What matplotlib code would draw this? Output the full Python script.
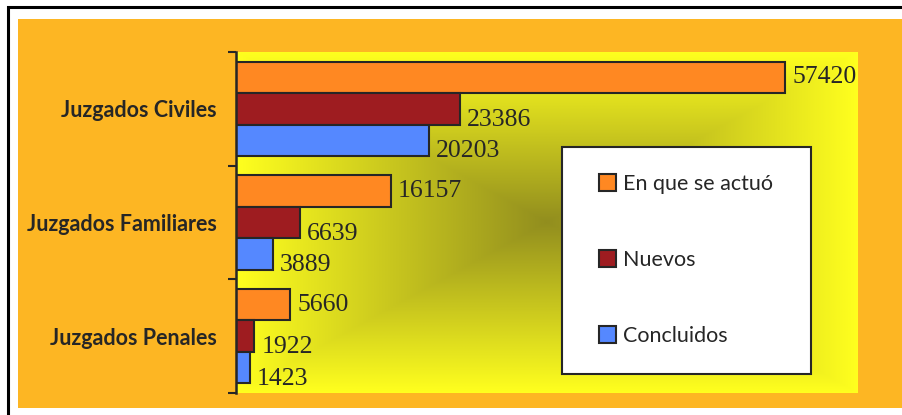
import numpy as np
import matplotlib.pyplot as plt
from matplotlib.patches import Rectangle, Patch
from matplotlib.lines import Line2D
from matplotlib.colors import LinearSegmentedColormap

# Datos
categorias = ['Juzgados Civiles', 'Juzgados Familiares', 'Juzgados Penales']
series = ['En que se actuó', 'Nuevos', 'Concluidos']
en_que_se_actuo = [57420, 16157, 5660]
nuevos = [23386, 6639, 1922]
concluidos = [20203, 3889, 1423]

colores = ['#FF8822', '#9E1C20', '#5588FF']
W, H = 902, 415

fig = plt.figure(figsize=(W / 100, H / 100), dpi=100)
fig.patch.set_facecolor('white')

# marco negro (arriba e izquierda) y fondo naranja
fig.add_artist(Line2D([8 / W, 8 / W, 1.0], [0.0, 1 - 7.5 / H, 1 - 7.5 / H],
                      transform=fig.transFigure, color='black', linewidth=2.2,
                      solid_joinstyle='miter', zorder=0))
fig.add_artist(Rectangle((18 / W, 7 / H), 1, (408 - 19) / H, transform=fig.transFigure,
                         facecolor='#FDB623', edgecolor='none', zorder=0.5))

ax = fig.add_axes([236 / W, (H - 393) / H, (858 - 236) / W, (393 - 52) / H])
ax.set_zorder(2)
ax.set_facecolor('#FFFF1E')

# degradado rectangular desde el centro
xx, yy = np.meshgrid(np.linspace(-1, 1, 400), np.linspace(-1, 1, 300))
t = np.maximum(np.abs(xx), np.abs(yy))
cmap = LinearSegmentedColormap.from_list('grad', ['#928E1E', '#FFFF1E'])
xmax = 65000
ax.imshow(t, cmap=cmap, extent=(0, xmax, -0.5, 2.5), aspect='auto', zorder=0,
          interpolation='bilinear', vmin=0, vmax=1)

pos = np.array([2, 1, 0])
h = 0.277
valores = [en_que_se_actuo, nuevos, concluidos]
offsets = [h, 0, -h]
for vals, off, col in zip(valores, offsets, colores):
    ax.barh(pos + off, vals, height=h, color=col, edgecolor='#262626', linewidth=1.5, zorder=2)

# etiquetas de datos
desp = [(5, 0), (5, -8), (5, -8)]
for vals, off, d in zip(valores, offsets, desp):
    for p, v in zip(pos, vals):
        ax.annotate(str(v), (v, p + off), xytext=d, textcoords='offset points',
                    va='center', ha='left', fontsize=18.5, family='Liberation Serif',
                    color='#262626', zorder=3)

ax.set_xlim(0, xmax)
ax.set_ylim(-0.5, 2.5)
ax.set_xticks([])
ax.set_yticks(pos)
ax.set_yticklabels(categorias, family='Lato', fontweight='bold', fontsize=15.5, color='#262626')
ax.tick_params(axis='y', which='major', length=0, pad=14)
ax.set_yticks([-0.5, 0.5, 1.5, 2.5], minor=True)
ax.tick_params(axis='y', which='minor', length=6, width=1.5, color='#262626')
for s in ['top', 'right', 'bottom']:
    ax.spines[s].set_visible(False)
ax.spines['left'].set_color('#262626')
ax.spines['left'].set_linewidth(1.8)
ax.spines['left'].set_zorder(4)

# leyenda
fig.add_artist(Rectangle((562 / W, (H - 374) / H), (811 - 562) / W, (374 - 147) / H,
                         transform=fig.transFigure, facecolor='white', edgecolor='#262626',
                         linewidth=1.5, zorder=5))
handles = [Patch(facecolor=c, edgecolor='#262626', linewidth=1.5) for c in colores]
leg = fig.legend(handles, series, loc='center', bbox_to_anchor=(686 / W, 1 - 260 / H),
                 frameon=False, prop={'family': 'Lato', 'size': 15.5},
                 handlelength=0.8, handleheight=0.8, handletextpad=0.3,
                 labelspacing=2.6)
leg.set_zorder(6)
for txt in leg.get_texts():
    txt.set_color('#262626')

fig.savefig('out.png', dpi=100)
